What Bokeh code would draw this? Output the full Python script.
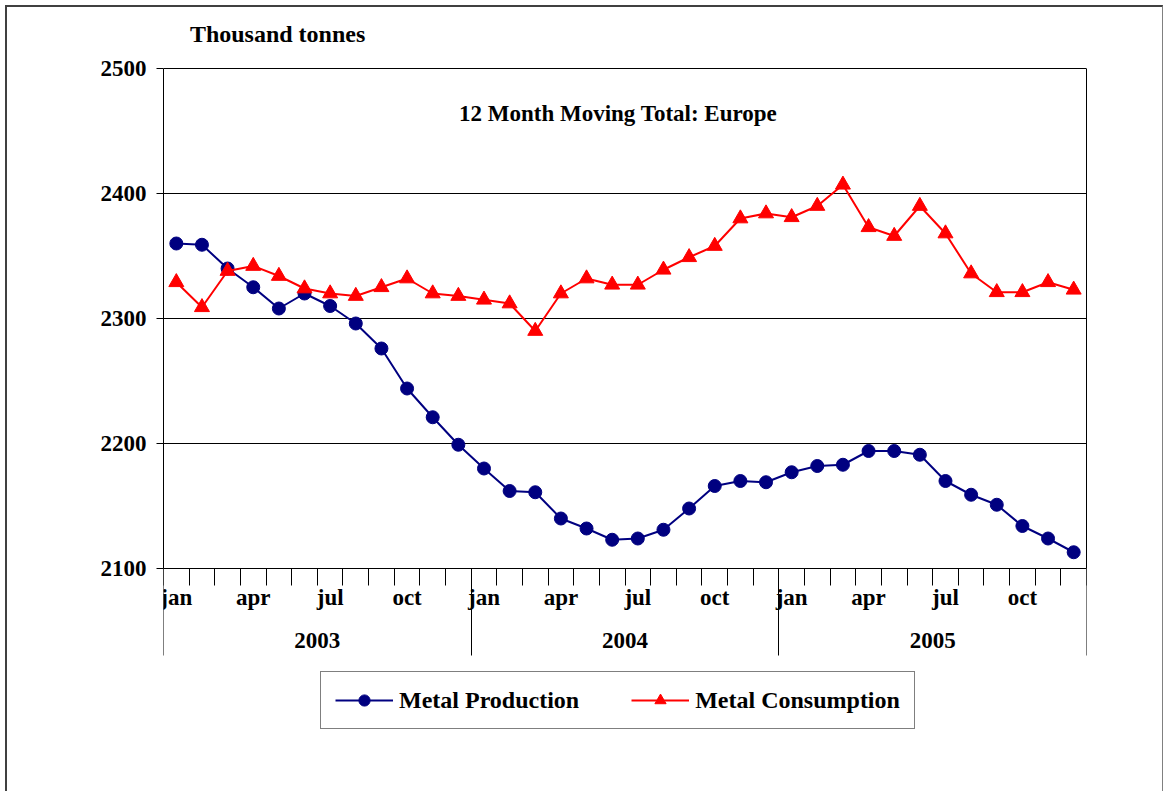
from bokeh.plotting import figure
from bokeh.models import Range1d, LinearAxis, FixedTicker, Legend, LegendItem, Label, Grid
from bokeh.embed import file_html
from bokeh.resources import INLINE

# ---------------- data ----------------
years = ["2003", "2004", "2005"]
months = ["jan", "feb", "mar", "apr", "may", "jun", "jul", "aug", "sep", "oct", "nov", "dec"]
shown_months = ["jan", "apr", "jul", "oct"]
y_ticks = [2100, 2200, 2300, 2400, 2500]

production = [2360, 2359, 2340, 2325, 2308, 2320, 2310, 2296, 2276, 2244, 2221, 2199,
              2180, 2162, 2161, 2140, 2132, 2123, 2124, 2131, 2148, 2166, 2170, 2169,
              2177, 2182, 2183, 2194, 2194, 2191, 2170, 2159, 2151, 2134, 2124, 2113]
consumption = [2329, 2309, 2338, 2342, 2334, 2324, 2320, 2318, 2325, 2332, 2320, 2318,
               2315, 2312, 2290, 2320, 2332, 2327, 2327, 2339, 2349, 2358, 2380, 2384,
               2381, 2390, 2407, 2373, 2366, 2390, 2368, 2336, 2321, 2321, 2329, 2323]

n = len(production)
nm = len(months)
x = [i + 0.5 for i in range(n)]

FONT = "Liberation Serif"
FS = "23px"

# layout in pixels (canvas): plot box 500 px tall for 400 units; the frame extends
# above and below the plot box so that unit label, category axis and legend live inside it
PX_PER_UNIT = 500 / (y_ticks[-1] - y_ticks[0])
EXTRA_BELOW = 212
EXTRA_ABOVE = 51
TOP_BORDER = 10
y_lo = y_ticks[0] - EXTRA_BELOW / PX_PER_UNIT
y_hi = y_ticks[-1] + EXTRA_ABOVE / PX_PER_UNIT

p = figure(width=1158, height=786, output_backend="svg", toolbar_location=None,
           x_range=Range1d(0, n), y_range=Range1d(y_lo, y_hi),
           x_axis_type=None, y_axis_type=None,
           min_border_left=156, min_border_right=79, min_border_top=TOP_BORDER,
           min_border_bottom=786 - TOP_BORDER - EXTRA_ABOVE - 500 - EXTRA_BELOW)
p.styles = {"margin-left": "5px", "margin-top": "5px",
            "border-left": "2px solid #404040", "border-top": "2px solid #404040",
            "border-right": "1px solid #808080"}
p.outline_line_color = None
p.background_fill_color = "white"
p.border_fill_color = "white"

# y axis
yticker = FixedTicker(ticks=y_ticks, minor_ticks=[])
yaxis = LinearAxis(ticker=yticker, bounds=(y_ticks[0], y_ticks[-1]))
yaxis.major_tick_out = 7
yaxis.major_tick_in = 0
yaxis.major_label_standoff = 10
yaxis.major_label_text_font = FONT
yaxis.major_label_text_font_style = "bold"
yaxis.major_label_text_font_size = FS
yaxis.major_label_text_color = "black"
yaxis.axis_line_color = "black"
yaxis.major_tick_line_color = "black"
p.add_layout(yaxis, "left")
p.add_layout(Grid(dimension=1, ticker=yticker, grid_line_color="black", grid_line_width=1,
                  bounds=(0, n)), "center")

# right edge of the plot box
rax = LinearAxis(ticker=FixedTicker(ticks=[], minor_ticks=[]), bounds=(y_ticks[0], y_ticks[-1]))
rax.axis_line_color = "black"
rax.major_tick_out = 0
rax.major_tick_in = 0
rax.major_label_standoff = 0
p.add_layout(rax, "right")


def cat_axis(ticks, minor, minor_out, labels, standoff, line=False):
    ax = LinearAxis(ticker=FixedTicker(ticks=ticks, minor_ticks=minor), fixed_location=y_ticks[0])
    ax.major_tick_out = 0
    ax.major_tick_in = 0
    ax.major_tick_line_color = None
    ax.minor_tick_out = minor_out
    ax.minor_tick_in = 0
    ax.minor_tick_line_color = "black"
    ax.axis_line_color = "black" if line else None
    ax.major_label_overrides = labels
    ax.major_label_standoff = standoff
    ax.major_label_text_font = FONT
    ax.major_label_text_font_style = "bold"
    ax.major_label_text_font_size = FS
    ax.major_label_text_color = "black"
    p.add_layout(ax, "below")
    return ax


# short ticks between months + axis line
cat_axis([], list(range(n + 1)), 17, {}, 0, line=True)
# long year separators
cat_axis([], [k * nm for k in range(len(years) + 1)], 87, {}, 0)
# month labels
m_ticks = [k * nm + months.index(m) + 0.5 for k in range(len(years)) for m in shown_months]
cat_axis(m_ticks, [], 0, {t: months[int(t) % nm] for t in m_ticks}, 16)
# year labels
y_pos = [k * nm + nm / 2 for k in range(len(years))]
cat_axis(y_pos, [], 0, {t: years[k] for k, t in enumerate(y_pos)}, 64)

# series
lp = p.line(x, production, line_color="#000080", line_width=2)
sp = p.scatter(x, production, marker="circle", size=13, fill_color="#000080", line_color="#000080")
lc = p.line(x, consumption, line_color="#ff0000", line_width=2)
sc = p.scatter(x, consumption, marker="triangle", size=15, fill_color="#ff0000", line_color="#ff0000")

p.add_layout(Label(x=4.45, y=2528, text="Thousand tonnes", text_align="center",
                   text_baseline="middle", text_font=FONT, text_font_style="bold", text_font_size="24px",
                   text_color="black"))
p.add_layout(Label(x=17.73, y=2464, text="12 Month Moving Total: Europe", text_align="center",
                   text_baseline="middle", text_font=FONT, text_font_style="bold", text_font_size=FS,
                   text_color="black"))

legend = Legend(items=[LegendItem(label="Metal Production", renderers=[lp, sp]),
                       LegendItem(label="Metal Consumption", renderers=[lc, sc])],
                location=(157, 51), orientation="horizontal")
legend.margin = 0
legend.padding = 14
legend.spacing = 52
legend.glyph_width = 58
legend.glyph_height = 28
legend.label_standoff = 6
legend.label_text_font = FONT
legend.label_text_font_style = "bold"
legend.label_text_font_size = "24px"
legend.label_text_color = "black"
legend.border_line_color = "black"
legend.border_line_width = 1
legend.background_fill_color = "white"
legend.background_fill_alpha = 1
p.add_layout(legend)

open("out.html", "w").write(file_html(p, INLINE))
